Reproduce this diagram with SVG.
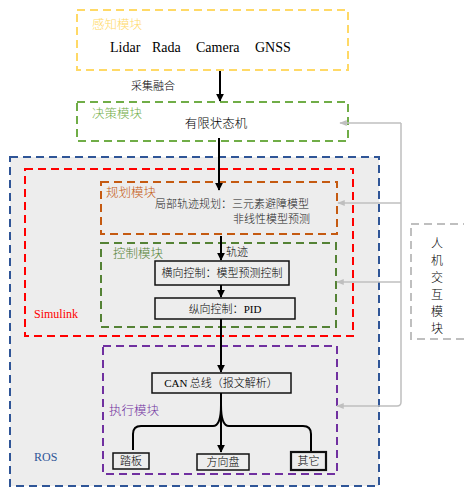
<svg xmlns="http://www.w3.org/2000/svg" width="464" height="489" viewBox="0 0 464 489">
<defs>
<style>
.cn{font-family:"Noto Sans CJK SC","Noto Sans",sans-serif;font-weight:300;}
.se{font-family:"Liberation Serif","Noto Sans CJK SC",serif;font-weight:400;}
.dash{fill:none;stroke-width:2;stroke-dasharray:8 5;}
.box{fill:#ededed;stroke:#111;stroke-width:1.5;}
.conn{fill:none;stroke:#000;stroke-width:2;}
.gray{fill:none;stroke:#bfbfbf;stroke-width:1.5;}
</style>
<marker id="ah" viewBox="0 0 10 10" refX="9" refY="5" markerWidth="4" markerHeight="4" orient="auto"><path d="M0,0 L10,5 L0,10 z" fill="#000"/></marker>
<marker id="gh" viewBox="0 0 10 10" refX="9" refY="5" markerWidth="5" markerHeight="5" orient="auto"><path d="M0,1 L10,5 L0,9 z" fill="#bfbfbf"/></marker>
</defs>
<rect width="464" height="489" fill="#fff"/>

<g id="ros">
<rect x="10" y="157" width="369" height="329" stroke="#2f5597" class="dash" style="fill:#ededed"/>
<text x="34" y="461" class="se" font-size="12" fill="#2f5597">ROS</text>
</g>

<g id="simulink">
<rect x="25" y="169" width="328" height="167" stroke="#ff0000" class="dash"/>
<text x="34" y="318" class="se" font-size="12" fill="#ff0000">Simulink</text>
</g>

<g id="perception">
<rect x="77" y="10" width="271" height="60" stroke="#ffd966" class="dash"/>
<text x="92" y="29" class="cn" font-size="12.5" fill="#ffd966">感知模块</text>
<text x="110" y="52" class="se" font-size="14" fill="#000">Lidar</text>
<text x="152" y="52" class="se" font-size="14" fill="#000">Rada</text>
<text x="196" y="52" class="se" font-size="14" fill="#000">Camera</text>
<text x="255" y="52" class="se" font-size="14" fill="#000">GNSS</text>
</g>

<g id="decision">
<rect x="77" y="102" width="271" height="39" stroke="#70ad47" class="dash"/>
<text x="92" y="118" class="cn" font-size="12.5" fill="#70ad47">决策模块</text>
<text x="216" y="128" class="cn" font-size="12.5" fill="#000" text-anchor="middle">有限状态机</text>
</g>

<g id="planning">
<rect x="101" y="182" width="236" height="52" stroke="#c55a11" class="dash"/>
<text x="106" y="197" class="cn" font-size="12.5" fill="#c55a11">规划模块</text>
<text x="155" y="208" class="cn" font-size="11" fill="#222">局部轨迹规划：三元素避障模型</text>
<text x="233" y="223" class="cn" font-size="11" fill="#222">非线性模型预测</text>
</g>

<g id="control">
<rect x="101" y="243" width="235" height="84" stroke="#548235" class="dash"/>
<text x="113" y="258" class="cn" font-size="12.5" fill="#548235">控制模块</text>
<text x="226" y="256" class="cn" font-size="11" fill="#000">轨迹</text>
</g>

<g id="lateral">
<rect x="155" y="261" width="134" height="24" class="box"/>
<text x="222" y="277" class="cn" font-size="11" fill="#000" text-anchor="middle">横向控制：模型预测控制</text>
</g>

<g id="longitudinal">
<rect x="155" y="298" width="140" height="21" class="box"/>
<text x="225" y="313" class="cn" font-size="11" fill="#000" text-anchor="middle">纵向控制：<tspan class="se">PID</tspan></text>
</g>

<g id="execution">
<rect x="103" y="346" width="234" height="128" stroke="#7030a0" class="dash"/>
<text x="109" y="415" class="cn" font-size="12.5" fill="#7030a0">执行模块</text>
</g>

<g id="can">
<rect x="152" y="373" width="139" height="20" class="box"/>
<text x="221" y="387" class="cn" font-size="11" fill="#000" text-anchor="middle"><tspan class="se">CAN</tspan> 总线（报文解析）</text>
</g>

<g id="pedal">
<rect x="113" y="453" width="36" height="16" class="box"/>
<text x="131" y="465" class="cn" font-size="11" fill="#000" text-anchor="middle">踏板</text>
</g>
<g id="steering">
<rect x="197" y="454" width="52" height="16" class="box"/>
<text x="223" y="466" class="cn" font-size="11" fill="#000" text-anchor="middle">方向盘</text>
</g>
<g id="other">
<rect x="291" y="452" width="35" height="18" class="box" style="stroke-width:2.2"/>
<text x="308.5" y="465" class="cn" font-size="11" fill="#000" text-anchor="middle">其它</text>
</g>

<g id="hmi">
<rect x="411" y="224" width="60" height="115" fill="none" stroke="#bfbfbf" class="dash"/>
<g class="cn" font-size="12" fill="#000" text-anchor="middle">
<text x="437" y="248">人</text>
<text x="437" y="265">机</text>
<text x="437" y="282">交</text>
<text x="437" y="299">互</text>
<text x="437" y="316">模</text>
<text x="437" y="333">块</text>
</g>
</g>

<g id="connectors">
<path d="M220,71 V101" class="conn" marker-end="url(#ah)"/>
<text x="131" y="90" class="cn" font-size="11" fill="#000">采集融合</text>
<path d="M219,138 V190" class="conn" marker-end="url(#ah)"/>
<path d="M221,236 V260" class="conn" marker-end="url(#ah)"/>
<path d="M221,285 V297" class="conn" marker-end="url(#ah)"/>
<path d="M221,319 V372" class="conn" marker-end="url(#ah)"/>
<path d="M221,393 V405 Q221,426 213,426 H141 Q133,426 133,434 V450" class="conn"/>
<path d="M221,405 Q221,426 229,426 H303 Q311,426 311,434 V451" class="conn"/>
<path d="M221,405 V452" class="conn" marker-end="url(#ah)"/>
<path d="M401,123 V402 Q401,406 397,406 H337" class="gray" marker-end="url(#gh)"/>
<path d="M401,123 H340" class="gray" marker-end="url(#gh)"/>
<path d="M401,203 H338" class="gray" marker-end="url(#gh)"/>
<path d="M401,282 H337" class="gray" marker-end="url(#gh)"/>
</g>
</svg>
